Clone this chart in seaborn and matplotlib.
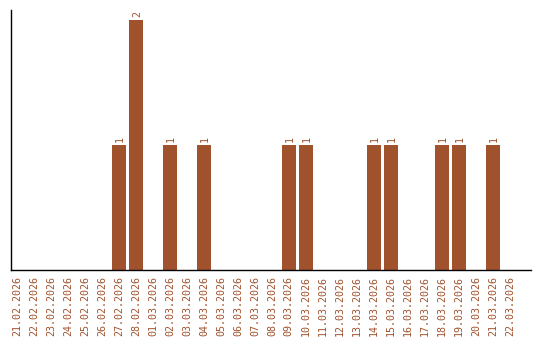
import matplotlib
matplotlib.use("Agg")
import matplotlib.pyplot as plt
import seaborn as sns
import pandas as pd

dates = ["21.02.2026", "22.02.2026", "23.02.2026", "24.02.2026", "25.02.2026",
         "26.02.2026", "27.02.2026", "28.02.2026", "01.03.2026", "02.03.2026",
         "03.03.2026", "04.03.2026", "05.03.2026", "06.03.2026", "07.03.2026",
         "08.03.2026", "09.03.2026", "10.03.2026", "11.03.2026", "12.03.2026",
         "13.03.2026", "14.03.2026", "15.03.2026", "16.03.2026", "17.03.2026",
         "18.03.2026", "19.03.2026", "20.03.2026", "21.03.2026", "22.03.2026"]
counts = [0, 0, 0, 0, 0, 0, 1, 2, 0, 1,
          0, 1, 0, 0, 0, 0, 1, 1, 0, 0,
          0, 1, 1, 0, 0, 1, 1, 0, 1, 0]

color = "#A0522D"
sns.set_style("white")
plt.rcParams['font.family'] = ['DejaVu Sans Mono', 'DejaVu Sans']

df = pd.DataFrame({"date": dates, "count": counts})
fig = plt.figure(figsize=(5.4, 3.4), dpi=100)
ax = fig.add_axes([0.0204, 0.2059, 0.9630, 0.7647])
sns.barplot(data=df, x="date", y="count", color=color, saturation=1, width=0.82,
            linewidth=0, edgecolor=color, ax=ax)

for p, v in zip(ax.patches, counts):
    if v > 0:
        ax.text(p.get_x() + p.get_width() / 2 + 0.05, v + 0.025, str(v), rotation=90,
                ha="center", va="bottom", fontsize=7.2, color=color)

ax.set_xlim(-0.35, 30.25)
ax.set_ylim(0, 2.08)
ax.set_yticks([])
ax.set_xlabel("")
ax.set_ylabel("")
ax.tick_params(axis="x", length=0, pad=4, labelsize=7.2, labelcolor=color)
plt.setp(ax.get_xticklabels(), rotation=90)
for s in ["top", "right"]:
    ax.spines[s].set_visible(False)
for s in ["left", "bottom"]:
    ax.spines[s].set_color("black")
    ax.spines[s].set_linewidth(1)
fig.savefig("out.png", dpi=100)
